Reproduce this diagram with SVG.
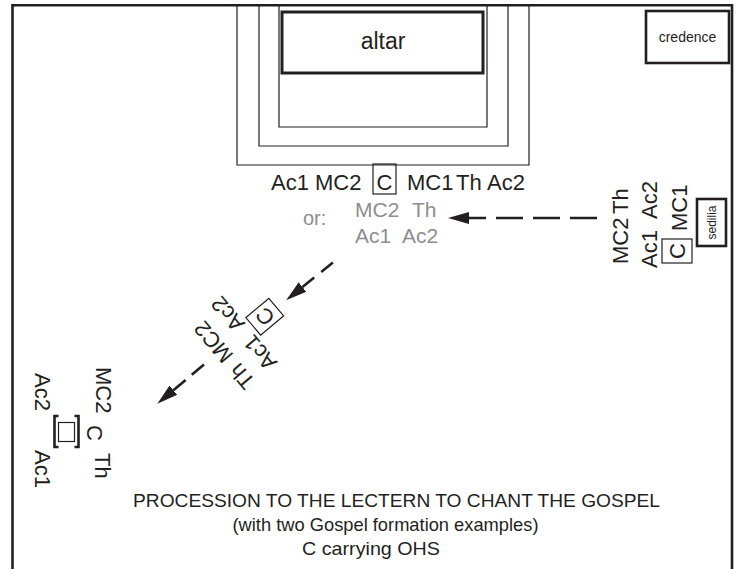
<svg xmlns="http://www.w3.org/2000/svg" width="739" height="569" viewBox="0 0 739 569">
<style>
text{font-family:"Liberation Sans",Arial,sans-serif;fill:#231f20;}
.lbl{font-size:22px;}
.gray{font-size:21px;fill:#8e8e8e;}
.title{font-size:19px;text-anchor:middle;}
.thin{fill:none;stroke:#231f20;stroke-width:1.2;}
.thick{fill:none;stroke:#231f20;stroke-width:2.6;}
.frame{fill:none;stroke:#231f20;stroke-width:2.6;}
.arrow{fill:none;stroke:#231f20;stroke-width:2.6;marker-start:url(#ah);}
.mid{text-anchor:middle;}
</style>
<defs>
<marker id="ah" markerUnits="userSpaceOnUse" markerWidth="22" markerHeight="14" refX="0" refY="7" orient="auto-start-reverse" viewBox="0 0 22 14">
<path d="M0,1 L21,7 L0,13 Z" fill="#231f20"/>
</marker>
</defs>

<g id="frame">
<path class="frame" d="M12.5,569 V5.3 H732 V569"/>
</g>

<g id="sanctuary">
<path class="thin" d="M237,5 V165 H529 V5"/>
<path class="thin" d="M259,5 V146 H508 V5"/>
<path class="thin" d="M279,5 V127 H487 V5"/>
</g>

<g id="altar">
<rect x="282" y="12" width="201" height="61" fill="#fff" stroke="#231f20" stroke-width="3"/>
<text class="mid" x="383" y="49" style="font-size:23px">altar</text>
</g>

<g id="credence">
<rect class="thick" x="646" y="11" width="83" height="52"/>
<text class="mid" x="687.5" y="42" style="font-size:14px">credence</text>
</g>

<g id="altar-formation" class="lbl">
<text class="lbl" x="271" y="190">Ac1</text>
<text class="lbl" x="315" y="190">MC2</text>
<rect class="thin" x="373" y="164" width="23" height="30"/>
<text class="lbl mid" x="384.5" y="190">C</text>
<text class="lbl" x="407" y="190">MC1</text>
<text class="lbl" x="456" y="190">Th</text>
<text class="lbl" x="487" y="190">Ac2</text>
</g>

<g id="alt-formation">
<text x="303" y="225" style="font-size:20px;fill:#8e8e8e">or:</text>
<text class="gray" x="355" y="217">MC2</text>
<text class="gray" x="412" y="217">Th</text>
<text class="gray" x="355" y="243">Ac1</text>
<text class="gray" x="402" y="243">Ac2</text>
</g>

<g id="sedilia-formation">
<text class="lbl" transform="translate(628,264) rotate(-90)">MC2</text>
<text class="lbl" transform="translate(628,214) rotate(-90)">Th</text>
<text class="lbl" transform="translate(657,268) rotate(-90)">Ac1</text>
<text class="lbl" transform="translate(657,219) rotate(-90)">Ac2</text>
<rect class="thin" x="662" y="239" width="30" height="24"/>
<text class="lbl mid" transform="translate(685,251) rotate(-90)">C</text>
<text class="lbl" transform="translate(687,231) rotate(-90)">MC1</text>
</g>

<g id="sedilia">
<rect class="thick" x="697" y="199" width="29" height="47"/>
<text class="mid" transform="translate(715.5,222.5) rotate(-90)" style="font-size:12px">sedilia</text>
</g>

<g id="diagonal-formation" transform="translate(264.75,316.75) rotate(-130)">
<rect class="thin" x="-11.5" y="-15" width="23" height="30"/>
<text class="lbl mid" x="0" y="8">C</text>
<text class="lbl mid" x="-31" y="-48">Th</text>
<text class="lbl mid" x="13.5" y="-48">MC2</text>
<text class="lbl mid" x="-24.4" y="-19">Ac1</text>
<text class="lbl mid" x="26" y="-19">Ac2</text>
</g>

<g id="lectern-formation">
<text class="lbl" transform="translate(35,373) rotate(90)">Ac2</text>
<text class="lbl" transform="translate(35,450) rotate(90)">Ac1</text>
<text class="lbl" transform="translate(96,367) rotate(90)">MC2</text>
<text class="lbl" transform="translate(87,425) rotate(90)">C</text>
<text class="lbl" transform="translate(95,453) rotate(90)">Th</text>
</g>

<g id="lectern">
<path class="thick" d="M58.5,416 H54.5 V447 H58.5 M74.5,416 H78.5 V447 H74.5"/>
<rect class="thin" x="58.5" y="422.5" width="16" height="19"/>
</g>

<g id="connectors">
<path class="arrow" d="M469,218 H600" stroke-dasharray="27 10" stroke-dashoffset="10"/>
<path class="arrow" d="M302.5,287 L333,262.5" stroke-dasharray="15 9"/>
<path class="arrow" d="M173.4,390.2 L204,364.5" stroke-dasharray="16 8"/>
</g>

<g id="caption">
<text class="title" x="396.5" y="507" textLength="527" lengthAdjust="spacingAndGlyphs">PROCESSION TO THE LECTERN TO CHANT THE GOSPEL</text>
<text class="title" x="385.5" y="531" textLength="306" lengthAdjust="spacingAndGlyphs">(with two Gospel formation examples)</text>
<text class="title" x="371" y="555" textLength="138" lengthAdjust="spacingAndGlyphs">C carrying OHS</text>
</g>
</svg>
